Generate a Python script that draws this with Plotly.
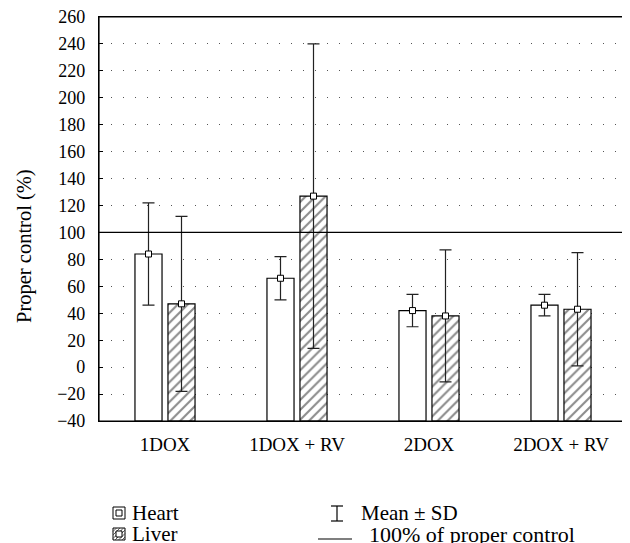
import plotly.graph_objects as go

categories = ["1DOX", "1DOX + RV", "2DOX", "2DOX + RV"]
heart_mean = [84, 66, 42, 46]
heart_sd = [38, 16, 12, 8]
liver_mean = [47, 127, 38, 43]
liver_sd = [65, 113, 49, 42]
y_ticks = list(range(-40, 261, 20))
reference_level = 100
axis_base = -40
y_title = "Proper control (%)"

FONT = "Liberation Serif, Times New Roman, DejaVu Serif, serif"
OFF = 8  # page body margin
W, H = 630 - OFF, 543 - OFF
# plot box in window pixels: x 99..627, y 17..421
L, T = 99 - OFF, 17 - OFF
R = W - (627 - OFF)
B = H - (421 - OFF)
PW, PH = W - L - R, H - T - B

def px(x):
    return (x - OFF - L) / PW

def py(y):
    return (H - B - (y - OFF)) / PH

idx = list(range(len(categories)))
off = 0.125
bw = 0.205
xh = [i - off for i in idx]
xl = [i + off for i in idx]

HATCH = dict(shape="/", fgcolor="#1a1a1a", bgcolor="white", size=7, solidity=0.3)

fig = go.Figure()
fig.add_trace(go.Bar(
    x=xh, y=[v - axis_base for v in heart_mean], base=axis_base, width=bw,
    name="Heart", marker=dict(color="white", line=dict(color="black", width=1.2)),
    showlegend=False,
))
fig.add_trace(go.Bar(
    x=xl, y=[v - axis_base for v in liver_mean], base=axis_base, width=bw,
    name="Liver",
    marker=dict(color="white", line=dict(color="black", width=1.2), pattern=HATCH),
    showlegend=False,
))
for xs, m, s in [(xh, heart_mean, heart_sd), (xl, liver_mean, liver_sd)]:
    fig.add_trace(go.Scatter(
        x=xs, y=m, mode="markers", showlegend=False,
        marker=dict(symbol="square", size=6, color="white", line=dict(color="black", width=1)),
        error_y=dict(type="data", array=s, visible=True, color="#222222", thickness=1.2, width=6),
    ))

fig.add_shape(type="line", xref="paper", x0=0, x1=1, yref="y", y0=reference_level, y1=reference_level,
              line=dict(color="black", width=1.2), layer="above")
# plot frame
fig.add_shape(type="rect", xref="paper", yref="paper", x0=0, x1=1, y0=0, y1=1,
              line=dict(color="black", width=1.2), fillcolor="rgba(0,0,0,0)", layer="above")

LEG = dict(family=FONT, size=21, color="black")

# legend: Heart / Liver icons
def box_icon(x0, y0, size, hatched):
    fig.add_shape(type="rect", xref="paper", yref="paper", x0=px(x0), x1=px(x0 + size),
                  y0=py(y0 + size), y1=py(y0), line=dict(color="black", width=1), fillcolor="white")
    if hatched:
        segs = []
        step = 3.5
        k = -size + step
        while k < size:
            xa = x0 + max(k, 0)
            ya = y0 + size - (xa - x0 - k)
            xb = x0 + min(size + k, size)
            yb = y0 + size - (xb - x0 - k)
            segs.append(f"M{px(xa)},{py(ya)} L{px(xb)},{py(yb)}")
            k += step
        fig.add_shape(type="path", xref="paper", yref="paper", path=" ".join(segs),
                      line=dict(color="#333333", width=0.8))
    c = size / 2
    fig.add_shape(type="rect", xref="paper", yref="paper", x0=px(x0 + c - 3), x1=px(x0 + c + 3),
                  y0=py(y0 + c + 3), y1=py(y0 + c - 3), line=dict(color="black", width=1), fillcolor="white")

box_icon(113, 507, 12, False)
box_icon(113, 528, 12, True)
fig.add_annotation(xref="paper", yref="paper", x=px(130), y=py(513), text="Heart", showarrow=False,
                   xanchor="left", yanchor="middle", font=LEG)
fig.add_annotation(xref="paper", yref="paper", x=px(130), y=py(534), text="Liver", showarrow=False,
                   xanchor="left", yanchor="middle", font=LEG)

# legend: Mean ± SD and reference line
ex = 337
fig.add_shape(type="line", xref="paper", yref="paper", x0=px(ex), x1=px(ex), y0=py(506), y1=py(521),
              line=dict(color="black", width=1.2))
for yy in (506, 521):
    fig.add_shape(type="line", xref="paper", yref="paper", x0=px(ex - 6), x1=px(ex + 6), y0=py(yy), y1=py(yy),
                  line=dict(color="black", width=1.2))
fig.add_annotation(xref="paper", yref="paper", x=px(359), y=py(513), text="Mean ± SD", showarrow=False,
                   xanchor="left", yanchor="middle", font=LEG)
fig.add_shape(type="line", xref="paper", yref="paper", x0=px(318), x1=px(352), y0=py(539), y1=py(539),
              line=dict(color="black", width=1.2))
fig.add_annotation(xref="paper", yref="paper", x=px(367), y=py(534), text="100% of proper control", showarrow=False,
                   xanchor="left", yanchor="middle", font=dict(family=FONT, size=22, color="black"))

# y-axis title
fig.add_annotation(xref="paper", yref="paper", x=px(24), y=py(246), text=y_title, textangle=-90,
                   showarrow=False, xanchor="center", yanchor="middle",
                   font=dict(family=FONT, size=20.5, color="black"))

fig.update_layout(
    width=W, height=H,
    margin=dict(l=L, r=R, t=T, b=B, autoexpand=False),
    paper_bgcolor="white", plot_bgcolor="white",
    font=dict(family=FONT, size=19, color="black"),
    barmode="overlay",
    showlegend=False,
)
fig.update_xaxes(
    range=[-0.5, len(categories) - 0.5], tickvals=idx, ticktext=categories,
    showgrid=False, zeroline=False, showline=True, linecolor="black", linewidth=1.2, mirror=True,
    ticks="", tickfont=dict(family=FONT, size=19, color="black"), automargin=False,
    ticklabelstandoff=6,
)
fig.update_yaxes(
    range=[y_ticks[0], y_ticks[-1]], tickvals=y_ticks, ticktext=[str(v).replace("-", "\u2212") for v in y_ticks],
    showgrid=True, gridcolor="#555555", gridwidth=1, griddash="1px,11px",
    zeroline=False, showline=True, linecolor="black", linewidth=1.2, mirror="ticks",
    ticks="inside", ticklen=4, tickcolor="black", tickwidth=1, automargin=False,
    tickfont=dict(family=FONT, size=18, color="black"), ticklabelstandoff=9,
    ticklabeloverflow="allow",
)

fig.write_html("out.html")
